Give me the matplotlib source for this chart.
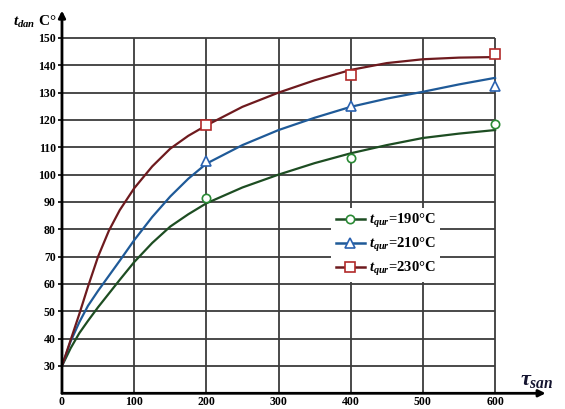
import matplotlib.pyplot as plt
from matplotlib.lines import Line2D

plt.rcParams["font.family"] = "Liberation Serif"
plt.rcParams["font.weight"] = "bold"
plt.rcParams["mathtext.fontset"] = "custom"
plt.rcParams["mathtext.rm"] = "Liberation Serif:bold"
plt.rcParams["mathtext.it"] = "Liberation Serif:italic:bold"
plt.rcParams["mathtext.bf"] = "Liberation Serif:bold"

# smooth curves
x_curve = [0, 12, 24, 36, 50, 65, 80, 100, 125, 150, 175, 200, 250, 300, 350, 400, 450, 500, 550, 600]
curve_190 = [30, 36.5, 42, 46.5, 51.5, 56.5, 61.5, 68, 75, 81, 85.5, 89.5, 95.3, 100, 104.2, 107.8, 110.8, 113.4, 115, 116.3]
curve_210 = [30, 39, 46, 52, 57.5, 63, 68.5, 76, 84.5, 92, 98.5, 104, 110.8, 116.3, 120.8, 124.8, 127.8, 130.3, 133, 135.4]
curve_230 = [30, 39.5, 49, 59, 70, 79.5, 87, 95, 103, 109.5, 114.2, 118, 124.8, 130, 134.5, 138.3, 140.8, 142.2, 142.8, 143]

# measured points
x_pts = [200, 400, 600]
pts_190 = [91.5, 106, 118.5]
pts_210 = [105, 125, 132.5]
pts_230 = [118, 136.5, 144]

labels = ["$t_{qur}$=190°C", "$t_{qur}$=210°C", "$t_{qur}$=230°C"]
x_ticks = [0, 100, 200, 300, 400, 500, 600]
y_ticks = [30, 40, 50, 60, 70, 80, 90, 100, 110, 120, 130, 140, 150]

fig = plt.figure(figsize=(5.65, 4.09), dpi=100)
ax = fig.add_axes([0.1097, 0.0384, 0.856, 0.929])
ax.set_xlim(0, 670)
ax.set_ylim(20, 159)

# grid
grid_c = "#3c3c3c"
ax.hlines(y_ticks, 0, 600, color=grid_c, lw=1.3, zorder=1)
ax.vlines(x_ticks[1:], 20, 150, color=grid_c, lw=1.3, zorder=1)

series = [
    (curve_190, pts_190, "#1d4d22", "#2a8a35", "o", 6),
    (curve_210, pts_210, "#1f5a98", "#2a62b0", "^", 6.5),
    (curve_230, pts_230, "#6e1a1e", "#b22a2a", "s", 6.5),
]
handles = []
for (cv, pv, lc, mc, mk, ms), lab in zip(series, labels):
    ax.plot(x_curve, cv, color=lc, lw=1.6, zorder=3)
    ax.plot(x_pts, pv, ls="none", marker=mk, ms=ms, mfc="white", mec=mc, mew=1.2, zorder=4)
    handles.append(Line2D([], [], color=lc, lw=1.8, marker=mk, ms=ms, mfc="white", mec=mc, mew=1.2))

leg = ax.legend(handles, labels, loc="upper left", bbox_to_anchor=(363, 90.5), bbox_transform=ax.transData,
                frameon=True, facecolor="white", edgecolor="none", framealpha=1, fancybox=False,
                fontsize=10.5, handlelength=2.0, handletextpad=0.3, labelspacing=0.4, borderpad=0.3)
leg.set_zorder(5)

# axes with arrows
for s in ax.spines.values():
    s.set_visible(False)
ax.annotate("", xy=(670, 20), xytext=(0, 20), arrowprops=dict(arrowstyle="-|>", color="black", lw=2,
            mutation_scale=10, shrinkA=0, shrinkB=0), annotation_clip=False)
ax.annotate("", xy=(0, 160), xytext=(0, 20), arrowprops=dict(arrowstyle="-|>", color="black", lw=2,
            mutation_scale=10, shrinkA=0, shrinkB=0), annotation_clip=False)

ax.set_xticks(x_ticks)
ax.set_yticks(y_ticks)
ax.tick_params(axis="both", labelsize=8.5, length=3, width=1.2, pad=1.5)
ax.tick_params(axis="x", length=0, pad=2)

ax.text(-68, 156, "$t_{dan}$ C°", fontsize=11, ha="left", va="center", clip_on=False)
ax.text(634, 25, r"$\tau_{san}$", fontsize=16, ha="left", va="center", color="#151530", clip_on=False)

fig.savefig("out.png", dpi=100)
